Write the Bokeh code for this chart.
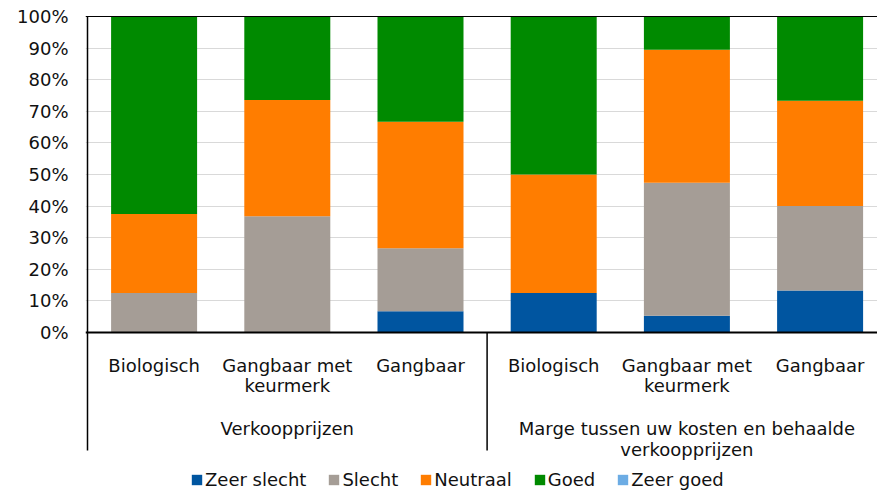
from bokeh.plotting import figure
from bokeh.models import (ColumnDataSource, Range1d, FixedTicker, PrintfTickFormatter,
                          Legend, LegendItem, Span)
from bokeh.core.properties import value
from bokeh.embed import file_html
from bokeh.resources import INLINE

# ---- data ----
categories = ["Biologisch", "Gangbaar met\nkeurmerk", "Gangbaar",
              "Biologisch", "Gangbaar met\nkeurmerk", "Gangbaar"]
groups = ["Verkoopprijzen", "Marge tussen uw kosten en behaalde\nverkoopprijzen"]
group_sizes = [3, 3]
series = ["Zeer slecht", "Slecht", "Neutraal", "Goed", "Zeer goed"]
zeer_slecht = [0.0, 0.0, 6.7, 12.5, 5.3, 13.3]
slecht = [12.5, 36.8, 20.0, 0.0, 42.1, 26.7]
neutraal = [25.0, 36.8, 40.0, 37.5, 42.1, 33.3]
goed = [62.5, 26.3, 33.3, 50.0, 10.5, 26.7]
zeer_goed = [0.0, 0.0, 0.0, 0.0, 0.0, 0.0]
y_ticks = [0, 10, 20, 30, 40, 50, 60, 70, 80, 90, 100]
colors = ["#0055A0", "#A59D96", "#FF7D00", "#008A00", "#6CACE4"]

FONT = value("DejaVu Sans")
TXT = "#111111"

# ---- geometry (pixels) ----
W, H = 877, 490
PX_Y = 3.16          # px per percent
PX_X = 133.2         # px per category slot
ZERO_Y = 332         # canvas y of 0%
TOP_BORDER = 14
top_pad = 2 / PX_Y
left_pad = 2 / PX_X

def py(canvas_y):
    return (ZERO_Y - canvas_y) / PX_Y

min_left = 85
x_start = -left_pad
x_end = x_start + (W - min_left) / PX_X
y_end = 100 + top_pad
y_start = y_end - (H - TOP_BORDER) / PX_Y

p = figure(width=W, height=H, output_backend="svg", toolbar_location=None,
           x_range=Range1d(x_start, x_end), y_range=Range1d(y_start, y_end),
           x_axis_location=None, min_border_left=min_left, min_border_right=0,
           min_border_top=TOP_BORDER, min_border_bottom=0)
p.outline_line_color = None
p.xgrid.visible = False
p.ygrid.ticker = FixedTicker(ticks=y_ticks[1:-1])
p.ygrid.grid_line_color = "#D9D9D9"
p.ygrid.grid_line_width = 1

ax = p.yaxis[0]
ax.ticker = FixedTicker(ticks=y_ticks)
ax.formatter = PrintfTickFormatter(format="%d%%")
ax.axis_line_color = None
ax.major_tick_line_color = None
ax.minor_tick_line_color = None
ax.major_tick_out = 0
ax.major_tick_in = 0
ax.major_label_standoff = 17
ax.major_label_text_font = "DejaVu Sans"
ax.major_label_text_font_size = "18px"
ax.major_label_text_color = TXT

xs = [i + 0.5 for i in range(len(categories))]
src = ColumnDataSource(dict(x=xs, zs=zeer_slecht, sl=slecht, ne=neutraal,
                            go=goed, zg=zeer_goed))
rs = p.vbar_stack(["zs", "sl", "ne", "go", "zg"], x="x", width=86 / PX_X,
                  source=src, fill_color=colors, line_color=None)

# axis lines
p.add_layout(Span(location=0, dimension="width", line_color="black", line_width=2))
p.add_layout(Span(location=100, dimension="width", line_color="black", line_width=1))

# category separators
bottom = py(450)
sep_x = [0]
acc = 0
for g in group_sizes:
    acc += g
    sep_x.append(acc)
sep_top = [100] + [0] * (len(sep_x) - 1)
p.segment(x0=sep_x, y0=sep_top, x1=sep_x, y1=[bottom] * len(sep_x),
          line_color="black", line_width=1.5)

# category labels (split lines)
lx, ly, lt = [], [], []
for x, c in zip(xs, categories):
    for k, line in enumerate(c.split("\n")):
        lx.append(x)
        ly.append(py(365 + 20 * k))
        lt.append(line)
p.text(x=lx, y=ly, text=lt, text_font=FONT, text_font_size="18px",
       text_align="center", text_baseline="alphabetic", text_color=TXT)

gx, gy, gt = [], [], []
start = 0
for g, n in zip(groups, group_sizes):
    for k, line in enumerate(g.split("\n")):
        gx.append(start + n / 2)
        gy.append(py(428 + 21 * k))
        gt.append(line)
    start += n
p.text(x=gx, y=gy, text=gt, text_font=FONT, text_font_size="18px",
       text_align="center", text_baseline="alphabetic", text_color=TXT)

legend = Legend(items=[LegendItem(label=s, renderers=[r]) for s, r in zip(series, rs)],
                orientation="horizontal", location=(105, 0),
                glyph_width=13, glyph_height=13, label_standoff=2, spacing=21,
                padding=0, margin=0, border_line_color=None,
                background_fill_alpha=0, label_text_font="DejaVu Sans",
                label_text_font_size="18px", label_text_color=TXT)
p.add_layout(legend, "center")

open("out.html", "w").write(file_html(p, INLINE))
